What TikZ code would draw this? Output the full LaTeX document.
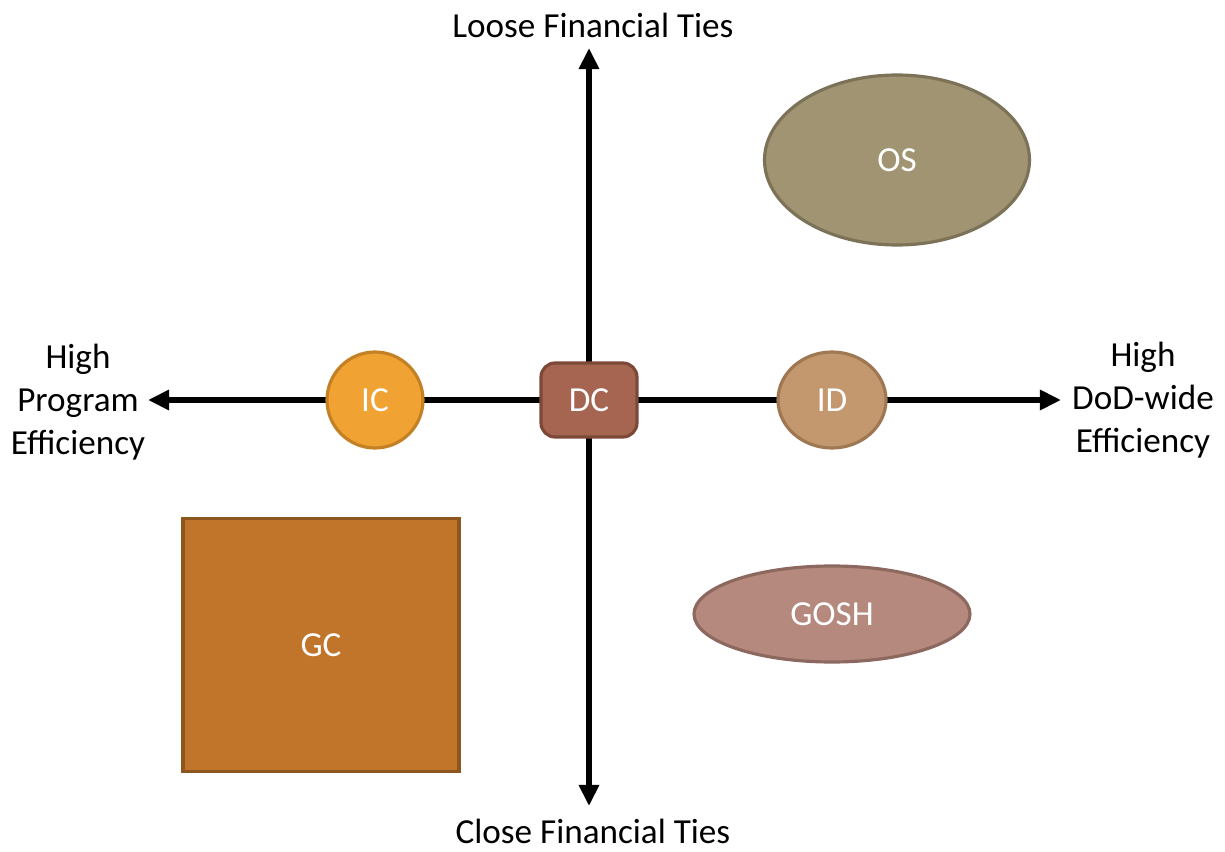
\documentclass[tikz,border=0pt]{standalone}
\usepackage{fontspec}
\setmainfont{Carlito}
\usetikzlibrary{positioning,calc,shapes.geometric,backgrounds,arrows.meta}
\definecolor{ICfill}{RGB}{240,162,50}
\definecolor{ICline}{RGB}{196,128,36}
\definecolor{DCfill}{RGB}{165,101,80}
\definecolor{DCline}{RGB}{124,72,56}
\definecolor{IDfill}{RGB}{196,152,110}
\definecolor{IDline}{RGB}{158,120,82}
\definecolor{OSfill}{RGB}{160,148,114}
\definecolor{OSline}{RGB}{124,114,88}
\definecolor{GOSHfill}{RGB}{181,137,126}
\definecolor{GOSHline}{RGB}{140,104,94}
\definecolor{GCfill}{RGB}{193,117,42}
\definecolor{GCline}{RGB}{140,86,30}

\begin{document}
\begin{tikzpicture}[
                x=0.02cm, y=-0.02cm,
                % axis and labels
                axis/.style={-{Triangle[length=12pt,width=11pt]}, line width=3.4pt, black},
                axislabel/.style={font=\fontsize{20}{24.4}\selectfont, align=center, inner sep=0pt},
                % shapes on the map
                item/.style={line width=1.8pt, text=white, font=\fontsize{20}{24}\selectfont, inner sep=0pt}
            ]
                \useasboundingbox (0,0) rectangle (1225,852);

                % Items
                \node[item, draw=DCline, fill=DCfill, rectangle, rounded corners=8pt,
                      minimum width=96*0.02cm, minimum height=74*0.02cm] (DC) at (589,400) {DC};
                \node[item, draw=ICline, fill=ICfill, circle, minimum size=96*0.02cm] (IC) at (375,400) {IC};
                \node[item, draw=IDline, fill=IDfill, ellipse, minimum width=108*0.02cm, minimum height=96*0.02cm] (ID) at (832,400) {ID};
                \node[item, draw=OSline, fill=OSfill, ellipse, minimum width=265*0.02cm, minimum height=170*0.02cm] (OS) at (897,160) {OS};
                \node[item, draw=GOSHline, fill=GOSHfill, ellipse, minimum width=276*0.02cm, minimum height=96*0.02cm] (GOSH) at (832,614) {GOSH};
                \node[item, draw=GCline, fill=GCfill, rectangle, minimum width=276*0.02cm, minimum height=253*0.02cm] (GC) at (321,645) {GC};

                % Axis ends
                \coordinate (west) at (148,400);
                \coordinate (east) at (1061,400);
                \coordinate (north) at (589,48);
                \coordinate (south) at (589,806);

                % Axes
                \begin{scope}[on background layer]
                    \draw[axis] (DC.center) -- (west);
                    \draw[axis] (DC.center) -- (east);
                    \draw[axis] (DC.center) -- (north);
                    \draw[axis] (DC.center) -- (south);
                \end{scope}

                % Labels
                \node[axislabel] (loose) at (593,25) {Loose Financial Ties};
                \node[axislabel] (close) at (593,831) {Close Financial Ties};
                \node[axislabel] (program) at (78,402) {High\\Program\\Efficiency};
                \node[axislabel] (dodwide) at (1143,400) {High\\DoD-wide\\Efficiency};

            \end{tikzpicture}
\end{document}
